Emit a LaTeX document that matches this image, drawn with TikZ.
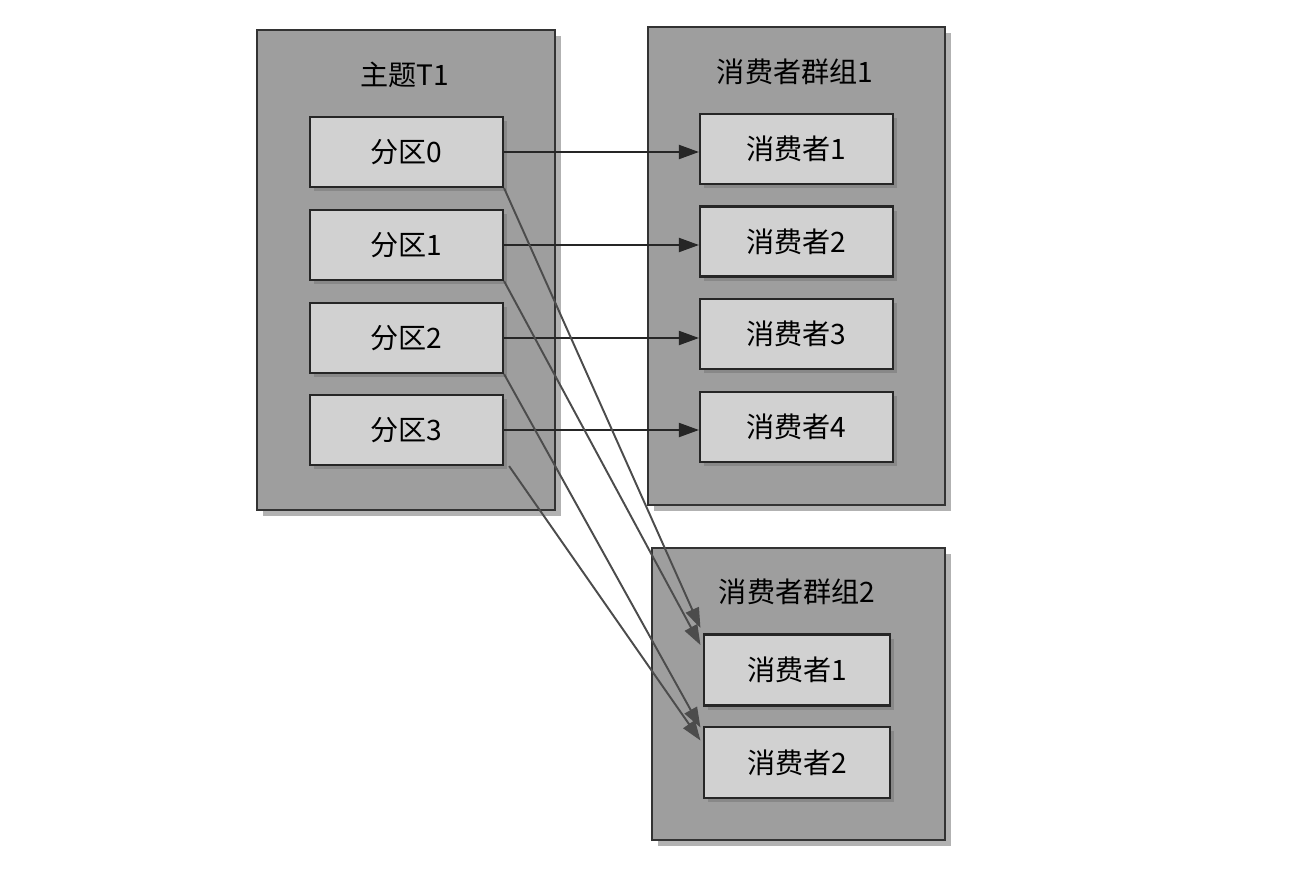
\documentclass[tikz,border=0pt]{standalone}
\usepackage{fontspec}
\newfontfamily\cjk{Noto Sans CJK SC}
\usetikzlibrary{shadows,calc,arrows.meta}
\begin{document}
\begin{tikzpicture}[
  font=\cjk\fontsize{16}{18}\selectfont,
  big/.style={draw=black!80,line width=1.2pt,fill=black!38,drop shadow={shadow xshift=0.12cm,shadow yshift=-0.12cm,fill=black!60}},
  small/.style={draw=black!85,line width=1.2pt,fill=black!18,minimum width=3.86cm,minimum height=1.4cm,drop shadow={shadow xshift=0.08cm,shadow yshift=-0.08cm,fill=black!55}},
  arr/.style={-{Triangle[length=0.4cm,width=0.28cm]},line width=1.1pt,draw=black!85},
  darr/.style={-{Triangle[length=0.4cm,width=0.28cm]},line width=1.1pt,draw=black!70}
]
\useasboundingbox (0,0) rectangle (25.92,-17.72);
\fill[white] (0,0) rectangle (25.92,-17.72);
\node[big,minimum width=5.96cm,minimum height=9.6cm] (t) at (8.12,-5.4) {};
\node[big,minimum width=5.94cm,minimum height=9.56cm] (g1) at (15.93,-5.32) {};
\node[big,minimum width=5.86cm,minimum height=5.84cm] (g2) at (15.97,-13.88) {};
\node (tt) at (8.1,-1.5) {主题T1};
\node (g1t) at (15.9,-1.44) {消费者群组1};
\node (g2t) at (15.94,-11.84) {消费者群组2};
\node[small] (p0) at (8.13,-3.04) {分区0};
\node[small] (p1) at (8.13,-4.9) {分区1};
\node[small] (p2) at (8.13,-6.76) {分区2};
\node[small] (p3) at (8.13,-8.6) {分区3};
\node[small] (c1) at (15.93,-2.98) {消费者1};
\node[small] (c2) at (15.93,-4.83) {消费者2};
\node[small] (c3) at (15.93,-6.68) {消费者3};
\node[small] (c4) at (15.93,-8.54) {消费者4};
\node[small,minimum width=3.72cm,minimum height=1.42cm] (d1) at (15.94,-13.4) {消费者1};
\node[small,minimum width=3.72cm,minimum height=1.42cm] (d2) at (15.94,-15.25) {消费者2};
\draw[arr] (p0.east) -- (c1.west |- p0.east);
\draw[arr] (p1.east) -- (c2.west |- p1.east);
\draw[arr] (p2.east) -- (c3.west |- p2.east);
\draw[arr] (p3.east) -- (c4.west |- p3.east);
\draw[darr] (p0.south east) -- ($(d1.west)+(-0.05,0.84)$);
\draw[darr] (p1.south east) -- ($(d1.west)+(-0.05,0.5)$);
\draw[darr] (p2.south east) -- ($(d2.west)+(-0.05,0.7)$);
\draw[darr] ($(p3.south east)+(0.1,0)$) -- ($(d2.west)+(-0.05,0.44)$);
\end{tikzpicture}
\end{document}
